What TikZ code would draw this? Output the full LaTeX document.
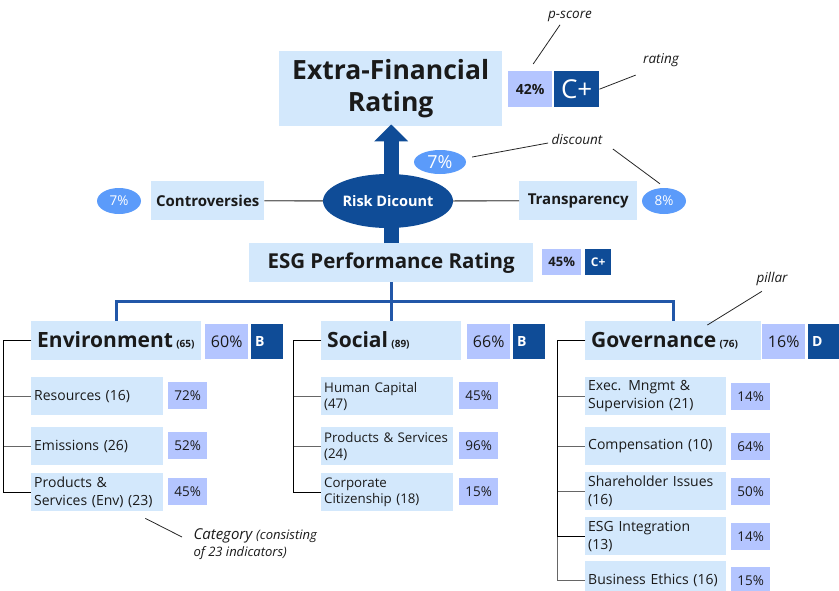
\documentclass[tikz,border=0pt]{standalone}
\usepackage{fontspec}
\setmainfont{Open Sans}
\usetikzlibrary{shapes.geometric,arrows.meta}
\definecolor{boxblue}{HTML}{D3E8FC}
\definecolor{pctblue}{HTML}{B4C5FF}
\definecolor{navy}{HTML}{0F4C97}
\definecolor{busblue}{HTML}{2257A8}
\definecolor{ellblue}{HTML}{5B9BFA}
\definecolor{ink}{HTML}{1A1A1A}

\begin{document}
\begin{tikzpicture}[x=1pt,y=-1pt,
  wh/.style 2 args={minimum width=#1pt,minimum height=#2pt},
  box/.style={fill=boxblue,inner sep=0pt,anchor=north west,text=ink},
  pct/.style={fill=pctblue,inner sep=0pt,anchor=north west,text=ink,font=\fontsize{13.5}{15}\selectfont},
  grade/.style={fill=navy,inner sep=0pt,anchor=north west,text=white},
  disc/.style={ellipse,fill=ellblue,inner sep=0pt,text=white,font=\fontsize{13.5}{15}\selectfont},
  sub/.style={box,align=left,inner xsep=3pt,font=\fontsize{14}{18}\selectfont},
  hdr/.style={box,align=left,inner xsep=6pt},
  note/.style={text=ink,font=\itshape\fontsize{13.5}{16}\selectfont},
  pointer/.style={black!85,line width=0.8pt},
  side/.style={gray!85!black,line width=1.3pt},
  bus/.style={busblue,line width=2.6pt},
  spine/.style={black,line width=1pt},
  twig/.style={black!60,line width=1pt}]
\useasboundingbox (0,0) rectangle (839,590);
\clip (0,0) rectangle (839,590);

\node[box,wh={223}{75},align=center,font=\bfseries\fontsize{26.5}{32}\selectfont] (efr) at (279,51) {Extra-Financial\\Rating};
\node[pct,wh={44}{36},font=\bfseries\fontsize{14}{16}\selectfont] (pc) at (508,71) {42\%};
\node[grade,wh={45}{36},font=\fontsize{26}{28}\selectfont] (cp) at (554,71) {C+};

\node[box,wh={284}{39},font=\bfseries\fontsize{20.5}{24}\selectfont] (esg) at (249,243) {ESG Performance Rating};
\node[pct,wh={39}{26},font=\bfseries\fontsize{13}{15}\selectfont] (esgpct) at (542,249) {45\%};
\node[grade,wh={26}{26},font=\bfseries\fontsize{12}{14}\selectfont] (esggrade) at (585,249) {C+};

\draw[navy,line width=15pt,-{Triangle[width=33pt,length=17pt]},shorten >=-2pt] (esg.north) -- (esg.north |- efr.south);

\node[box,wh={113}{39},font=\bfseries\fontsize{15}{17}\selectfont] (ctr) at (151,181) {Controversies};
\node[box,wh={118}{39},font=\bfseries\fontsize{15}{17}\selectfont] (trn) at (519,181) {Transparency};
\node[ellipse,fill=navy,text=white,inner sep=0pt,wh={130}{54},font=\bfseries\fontsize{14.5}{16}\selectfont] (risk) at (388,201) {Risk Dicount};
\draw[side] (ctr) -- (risk);
\draw[side] (risk) -- (trn);
\node[disc,wh={44}{26}] (d1) at (119,201) {7\%};
\node[disc,wh={52}{24},font=\fontsize{18}{20}\selectfont] (d2) at (440,162) {7\%};
\node[disc,wh={44}{26}] (d3) at (664,201) {8\%};

\foreach \n/\x/\w/\t/\c/\q/\p/\g in %
{env/31/170/Environment/65/205/60/B, soc/321/140/Social/89/467/66/B, gov/585/176/Governance/76/762/16/D} {
   \pgfmathsetmacro\tw{\w-12}
   \node[hdr,wh={\w}{39},text width=\tw pt] (\n) at (\x,321) {\bfseries\fontsize{21}{24}\selectfont\t\ \fontsize{10}{12}\selectfont(\c)};
   \node[pct,wh={43}{35},font=\fontsize{16}{18}\selectfont] (\n-pct) at (\q,324) {\p\%};
   \node[grade,wh={32}{35},align=left,text width=24pt,inner xsep=4pt,font=\bfseries\fontsize{14}{16}\selectfont] (\n-grade) at (\q+46,324) {\g};
}
\draw[bus] (esg.south) -- (soc.north);
\draw[bus] (env.north) |- ([yshift=-19pt]esg.south) -| (gov.north);

\foreach \y/\t/\p [count=\i] in %
{377/Resources (16)/72, 427/Emissions (26)/52, 473/{Products \&\\Services (Env) (23)}/45} {
   \node[sub,wh={132}{38},text width=126pt] (env\i) at (31,\y) {\t};
   \node[pct,wh={39}{27}] (env\i-pct) at (168,\y+5) {\p\%};
   \draw[twig] (env.west) -- ++(-28,0) |- (env\i.west);
}
\draw[spine] (env.west) -- ++(-28,0) |- (env3.west);

\foreach \y/\t/\p [count=\i] in %
{377/{Human Capital\\(47)}/45, 427/{Products \& Services\\(24)}/96, 473/{Corporate\\Citizenship (18)}/15} {
   \node[sub,wh={132}{38},text width=126pt,font=\fontsize{13.3}{16}\selectfont] (soc\i) at (321,\y) {\t};
   \node[pct,wh={39}{27}] (soc\i-pct) at (459,\y+5) {\p\%};
   \draw[twig] (soc.west) -- ++(-28,0) |- (soc\i.west);
}
\draw[spine] (soc.west) -- ++(-28,0) |- (soc3.west);

\foreach \y/\t/\p [count=\i] in %
{377/{Exec. Mngmt \&\\Supervision (21)}/14, 427/Compensation (10)/64, 472/{Shareholder Issues\\(16)}/50, 517/{ESG Integration\\(13)}/14, 561/Business Ethics (16)/15} {
   \node[sub,wh={141}{38},text width=135pt] (gov\i) at (585,\y) {\t};
   \node[pct,wh={39}{27}] (gov\i-pct) at (731,\y+6) {\p\%};
   \draw[twig] (gov.west) -- ++(-28,0) |- (gov\i.west);
}
\draw[spine] (gov.west) -- ++(-28,0) |- (gov4.west);

\node[note] (ps) at (570,16) {p-score};
\node[note] (rt) at (661,60) {rating};
\node[note] (dc) at (577,139) {discount};
\node[note] (pl) at (772,279) {pillar};
\node[note,anchor=north west,align=left,font=\itshape\fontsize{15}{17}\selectfont] (cat) at (190,525) {Category {\fontsize{13}{17}\selectfont(consisting}\\{\fontsize{13}{17}\selectfont of 23 indicators)}};
\draw[pointer] ([xshift=-10pt]ps.south) -- ([shift={(3,-7)}]pc.north);
\draw[pointer] ([shift={(-4,5)}]rt.south west) -- (cp.east);
\draw[pointer] ([yshift=-4pt]dc.west) -- ([shift={(6,-5)}]d2.east);
\draw[pointer] ([shift={(7,10)}]dc.east) -- ([shift={(-4,-4)}]d3.north);
\draw[pointer] ([shift={(9,2)}]pl.south west) -- ([xshift=-54pt,yshift=-4pt]gov.north east);
\draw[pointer] ([shift={(-18,7)}]env3.south east) -- ([shift={(-8,12)}]cat.north west);
\end{tikzpicture}
\end{document}
